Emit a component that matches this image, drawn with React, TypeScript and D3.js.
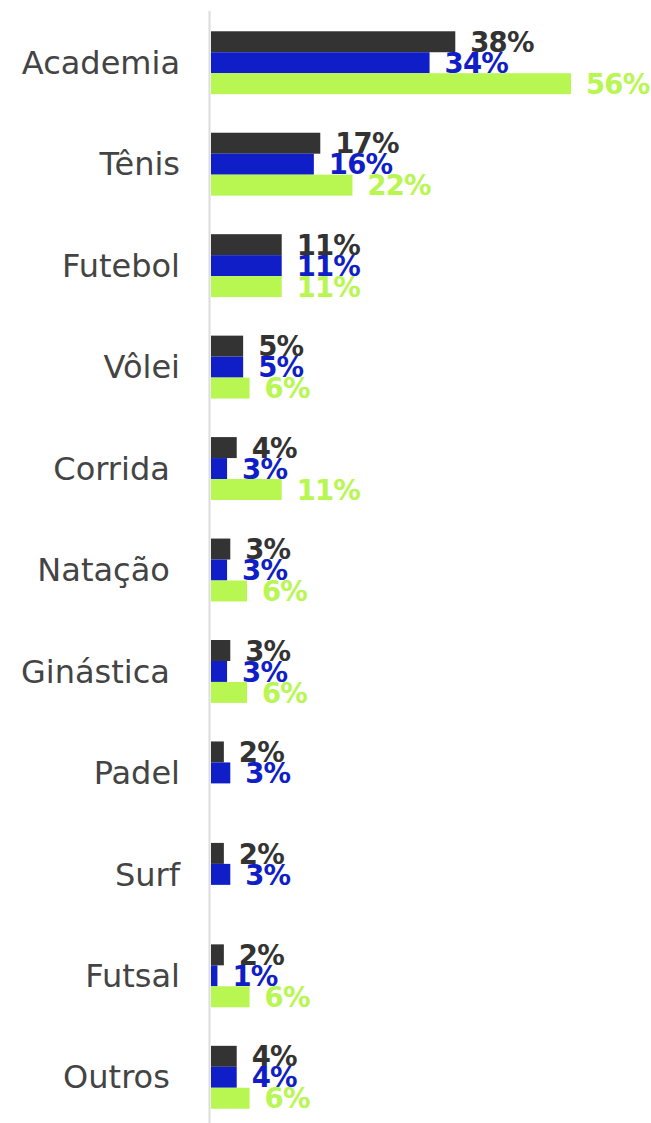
import React from "react";
import * as d3 from "d3";

const categories = ["Academia", "Tênis", "Futebol", "Vôlei", "Corrida ", "Natação ", "Ginástica ", "Padel", "Surf", "Futsal", "Outros "];
const seriesKeys = ["s1", "s2", "s3"];
const series1 = [38, 17, 11, 5, 4, 3, 3, 2, 2, 2, 4];
const series2 = [34, 16, 11, 5, 2.5, 2.5, 2.5, 3, 3, 1, 4];
const series3: (number | null)[] = [56, 22, 11, 6, 11, 5.6, 5.6, null, null, 6, 6];
const colors = ["#333333", "#0f1ec6", "#b8f652"];

const W = 651;
const H = 1123;

export default function App() {
  const x = d3.scaleLinear().domain([0, 56]).range([211, 571]);
  const y = d3.scaleBand<string>().domain(categories).range([12, 1128]).paddingInner(0.38).paddingOuter(0.19);
  const sub = d3.scaleBand<string>().domain(seriesKeys).range([0, y.bandwidth()]);
  const all = [series1, series2, series3];
  const fmt = (v: number) => `${Math.round(v)}%`;

  return (
    <svg width={W} height={H} style={{ position: "absolute", left: 0, top: 0, display: "block" }}>
      <rect x={0} y={0} width={W} height={H} fill="#fff" />
      <line x1={209.5} x2={209.5} y1={11} y2={H} stroke="#dcdcdc" strokeWidth={2} />
      {categories.map((c, i) => {
        const y0 = y(c)!;
        return (
          <g key={c}>
            <text
              x={180}
              y={y0 + y.bandwidth() / 2}
              dy="0.35em"
              textAnchor="end"
              fontFamily="'DejaVu Sans', sans-serif"
              fontSize={32}
              fill="#444"
              style={{ whiteSpace: "pre" }}
            >
              {c}
            </text>
            {all.map((s, k) => {
              const v = s[i];
              if (v == null) return null;
              const yy = y0 + sub(seriesKeys[k])!;
              const h = sub.bandwidth();
              return (
                <g key={k}>
                  <rect x={x(0)} y={yy} width={x(v) - x(0)} height={h} fill={colors[k]} />
                  <text
                    x={x(v) + 15}
                    y={yy + h / 2}
                    dy="0.37em"
                    fontFamily="'DejaVu Sans', sans-serif"
                    fontWeight="bold"
                    fontSize={27.5}
                    letterSpacing={-0.8}
                    fill={colors[k]}
                  >
                    {fmt(v)}
                  </text>
                </g>
              );
            })}
          </g>
        );
      })}
    </svg>
  );
}
